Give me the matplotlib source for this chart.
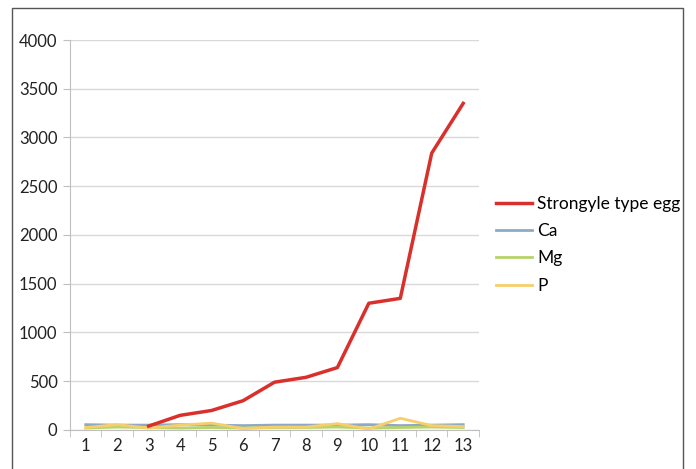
import matplotlib.pyplot as plt
import matplotlib.patches as patches
import numpy as np

# muestras 1..13
muestras = list(range(1, 14))
huevos = [np.nan, np.nan, 40, 150, 200, 300, 490, 540, 640, 1300, 1350, 2840, 3350]
calcio = [55, 50, 50, 55, 50, 45, 50, 50, 50, 55, 45, 50, 55]
magnesio = [20, 30, 25, 20, 25, 20, 25, 25, 30, 20, 25, 30, 25]
fosforo = [25, 55, 20, 50, 70, 15, 30, 30, 65, 10, 120, 45, 35]

rojo = "#d9302c"
azul = "#8ea9c8"
verde = "#b8d36a"
amarillo = "#f7cf6a"

plt.rcParams['font.family'] = ['Lato', 'DejaVu Sans']

fig = plt.figure(figsize=(6.96, 4.69), dpi=100)
ax = fig.add_axes([0.1006, 0.0832, 0.5875, 0.8315])

# marco exterior
marco = patches.Rectangle((12 / 696, -0.01), (683 - 12) / 696, 1 - 8 / 469 + 0.01,
                          transform=fig.transFigure, fill=False, edgecolor="#555555", linewidth=1.0)
fig.patches.append(marco)

x = np.array(muestras)
ax.plot(x, calcio, color=azul, linewidth=2, label="Ca", zorder=2)
ax.plot(x, magnesio, color=verde, linewidth=2, label="Mg", zorder=2)
ax.plot(x, fosforo, color=amarillo, linewidth=2, label="P", zorder=2)
ax.plot(x, huevos, color=rojo, linewidth=2.5, label="Strongyle type egg", zorder=3)

ax.set_xlim(0.5, 13.5)
ax.set_ylim(0, 4000)
ax.set_yticks(range(0, 4001, 500))
ax.set_xticks(x)
ax.set_xticklabels([str(m) for m in muestras])
ax.set_xticks(np.arange(0.5, 14, 1), minor=True)

ax.grid(axis="y", color="#d9d9d9", linewidth=1)
ax.set_axisbelow(True)
for lado in ["top", "right"]:
    ax.spines[lado].set_visible(False)
ax.spines["left"].set_color("#bfbfbf")
ax.spines["bottom"].set_color("#bfbfbf")

ax.tick_params(axis="y", length=5, color="#bfbfbf", labelsize=12, pad=4, labelcolor="#222222")
ax.tick_params(axis="x", which="major", length=0, labelsize=12, pad=6, labelcolor="#222222")
ax.tick_params(axis="x", which="minor", length=5, color="#bfbfbf")

handles, labels = ax.get_legend_handles_labels()
orden = [3, 0, 1, 2]
ax.legend([handles[i] for i in orden], [labels[i] for i in orden],
          loc="center left", bbox_to_anchor=(0.712, 0.478), bbox_transform=fig.transFigure,
          frameon=False, fontsize=12.5, handlelength=2.1, handletextpad=0.3,
          labelspacing=0.65, borderaxespad=0, borderpad=0)

fig.savefig("out.png", dpi=100)
